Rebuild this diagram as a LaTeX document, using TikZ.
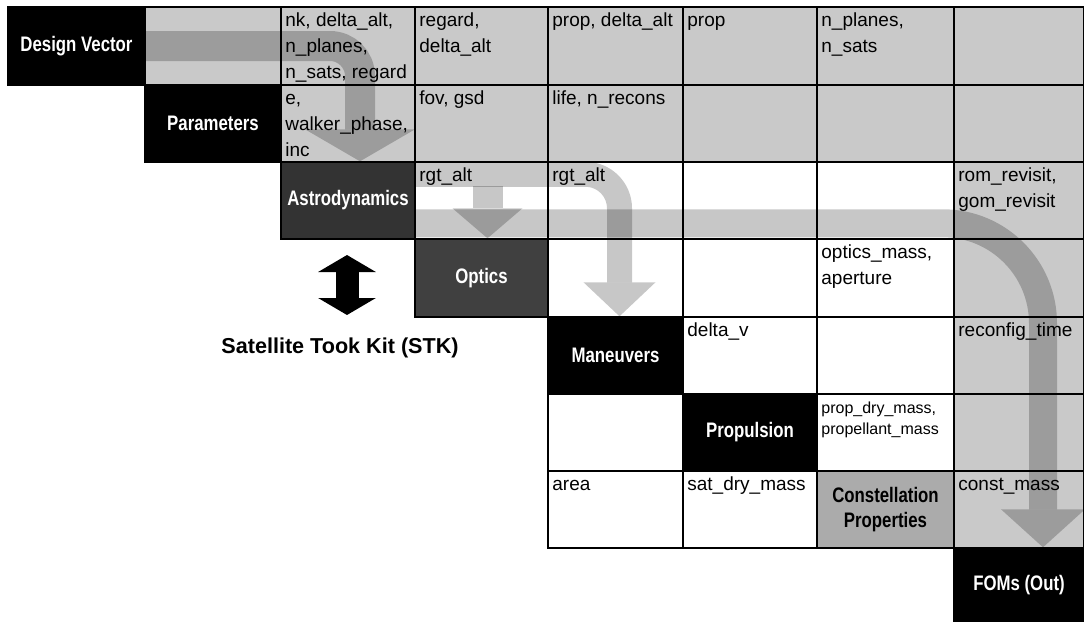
\documentclass[tikz,border=0pt]{standalone}
\usepackage{fontspec}
\setmainfont{Liberation Sans}
\newfontfamily\blockfont[FakeStretch=0.8]{Liberation Sans}
\usetikzlibrary{arrows.meta,calc,fit}

\tikzset{
	cellbox/.style={draw=black, line width=0.7pt},
	graybox/.style={cellbox, fill=black!21},
	whitebox/.style={cellbox, fill=white},
	blockbox/.style={draw=black, line width=0.7pt, fill=black, inner sep=0pt},
	blocktext/.style={text=white, inner sep=0pt, align=center,
		font=\blockfont\bfseries\fontsize{10.5}{12.5}\selectfont},
	entrytext/.style={anchor=north west, inner sep=0pt, align=left, font=\fontsize{9.5}{13}\selectfont},
	smalltext/.style={entrytext, font=\fontsize{8}{10.5}\selectfont},
	flowarrow/.style={draw=black, opacity=0.22},
	stkarrow/.style={draw=black, line width=11.5pt,
		{Triangle[width=28.5pt,length=8.5pt]}-{Triangle[width=28.5pt,length=8.5pt]}},
}

\begin{document}
\begin{tikzpicture}[x=0.5pt, y=-0.5pt]
			%%%%% START %%%%%
			\useasboundingbox (0,0) rectangle (1084,622);
			
			% gray rows of the matrix
			\foreach \a/\b in {145/281, 281/415, 415/548, 548/683, 683/817, 817/954, 954/1084}
				\draw[graybox] (\a,7) rectangle (\b,85);
			\foreach \a/\b in {281/415, 415/548, 548/683, 683/817, 817/954, 954/1084}
				\draw[graybox] (\a,85) rectangle (\b,162);
			
			% white cells
			\foreach \a/\b in {415/548, 548/683, 683/817, 817/954}
				\draw[whitebox] (\a,162) rectangle (\b,239);
			\foreach \a/\b in {548/683, 683/817, 817/954}
				\draw[whitebox] (\a,239) rectangle (\b,317);
			\foreach \a/\b in {683/817, 817/954}
				\draw[whitebox] (\a,317) rectangle (\b,394);
			\draw[whitebox] (548,394) rectangle (683,471);
			\draw[whitebox] (817,394) rectangle (954,471);
			\draw[whitebox] (548,471) rectangle (683,548);
			\draw[whitebox] (683,471) rectangle (817,548);
			
			% last column
			\foreach \a/\b in {162/239, 239/317, 317/394, 394/471, 471/548}
				\draw[graybox] (954,\a) rectangle (1084,\b);
			
			% blocks on the diagonal
			\node[blockbox, fit={(8,7) (145,85)}, label={[blocktext]center:Design Vector}] (dv) {};
			\node[blockbox, fit={(145,85) (281,162)}, label={[blocktext]center:Parameters}] (par) {};
			\node[blockbox, fill=black!80, fit={(281,162) (415,239)}, label={[blocktext]center:Astrodynamics}] (astro) {};
			\node[blockbox, fill=black!75, fit={(415,239) (548,317)}, label={[blocktext]center:Optics}] (optics) {};
			\node[blockbox, fit={(548,317) (683,394)}, label={[blocktext]center:Maneuvers}] (man) {};
			\node[blockbox, fit={(683,394) (817,471)}, label={[blocktext]center:Propulsion}] (prop) {};
			\node[blockbox, fill=black!33, fit={(817,471) (954,548)},
				label={[blocktext, text=black]center:{Constellation\\Properties}}] (cons) {};
			\node[blockbox, fit={(954,548) (1084,622)}, label={[blocktext]center:FOMs (Out)}] (fom) {};
			
			% flow arrows
			\draw[flowarrow, line width=15pt, rounded corners=15pt, -{Triangle[width=55pt,length=16pt,line width=0pt]}]
				(dv.east) -| ([xshift=6pt]astro.north);
			\draw[flowarrow, line width=12.5pt, rounded corners=17pt, -{Triangle[width=36pt,length=17pt,line width=0pt]}]
				([yshift=-6.5pt]astro.north east) -| ([xshift=2pt]man.north);
			\draw[flowarrow, line width=15pt, -{Triangle[width=35pt,length=15pt,line width=0pt]}]
				([xshift=3pt,yshift=26pt]optics.north) -- ([xshift=3pt]optics.north);
			\draw[flowarrow, line width=14pt, rounded corners=50pt, -{Triangle[width=42pt,length=19pt,line width=0pt]}]
				([yshift=-31pt]astro.north east) -| ([xshift=12pt]fom.north);
			
			% entries
			\node[entrytext] (t13) at (285,8) {\strut nk, delta\_alt,\\n\_planes,\\n\_sats, regard};
			\node[entrytext] (t14) at (419,8) {\strut regard,\\delta\_alt};
			\node[entrytext] (t15) at (552,8) {\strut prop, delta\_alt};
			\node[entrytext] (t16) at (687,8) {\strut prop};
			\node[entrytext] (t17) at (821,8) {\strut n\_planes,\\n\_sats};
			
			\node[entrytext] (t23) at (285,86) {\strut e,\\walker\_phase,\\inc};
			\node[entrytext] (t24) at (419,86) {\strut fov, gsd};
			\node[entrytext] (t25) at (552,86) {\strut life, n\_recons};
			
			\node[entrytext] (t34) at (419,163) {\strut rgt\_alt};
			\node[entrytext] (t35) at (552,163) {\strut rgt\_alt};
			\node[entrytext] (t38) at (958,163) {\strut rom\_revisit,\\gom\_revisit};
			
			\node[entrytext] (t47) at (821,240) {\strut optics\_mass,\\aperture};
			
			\node[entrytext] (t56) at (687,318) {\strut delta\_v};
			\node[entrytext] (t58) at (958,318) {\strut reconfig\_time};
			
			\node[smalltext] (t67) at (821,398) {\strut prop\_dry\_mass,\\propellant\_mass};
			
			\node[entrytext] (t75) at (552,472) {\strut area};
			\node[entrytext] (t76) at (687,472) {\strut sat\_dry\_mass};
			\node[entrytext] (t78) at (958,472) {\strut const\_mass};
			
			% STK
			\coordinate (stktop) at (347,255);
			\coordinate (stkbot) at (347,315);
			\draw[stkarrow] (stktop) -- (stkbot);
			\node[font=\bfseries\fontsize{10.8}{13}\selectfont] (stk) at (340,348) {Satellite Took Kit (STK)};
			
			%%%%% END %%%%%
\end{tikzpicture}
\end{document}
